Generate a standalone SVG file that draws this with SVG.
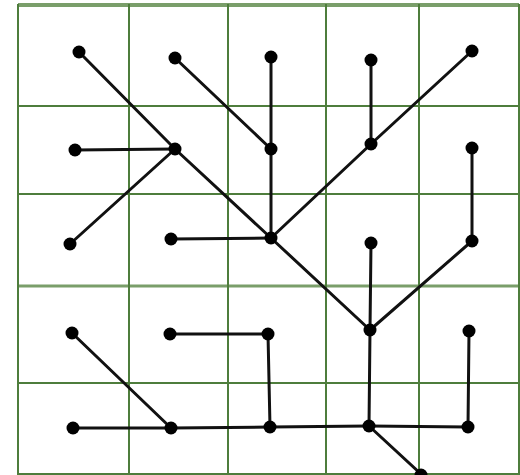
<svg xmlns="http://www.w3.org/2000/svg" width="520" height="475" viewBox="0 0 520 475">
<style>
.grid line{stroke:#4e7d3c;stroke-width:2}
.edges line{stroke:#111;stroke-width:3;stroke-linecap:round}
.n{fill:#000}
</style>
<rect width="520" height="475" fill="#fff"/>
<g class="grid" id="grid">
<line x1="18" y1="5" x2="519" y2="5" style="stroke:#7a9e6a;stroke-width:4"/>
<line x1="18" y1="106" x2="519" y2="106"/>
<line x1="18" y1="194" x2="519" y2="194"/>
<line x1="18" y1="286" x2="519" y2="286" style="stroke:#7a9e6a;stroke-width:3"/>
<line x1="18" y1="383" x2="519" y2="383"/>
<line x1="18" y1="474" x2="519" y2="474"/>
<line x1="18" y1="4" x2="18" y2="475"/>
<line x1="129" y1="4" x2="129" y2="475"/>
<line x1="228" y1="4" x2="228" y2="475"/>
<line x1="326" y1="4" x2="326" y2="475"/>
<line x1="419" y1="4" x2="419" y2="475"/>
<line x1="519" y1="4" x2="519" y2="475"/>
</g>
<g class="edges" id="connectors">
<line x1="79" y1="52" x2="175" y2="149"/>
<line x1="175" y1="149" x2="271" y2="238"/>
<line x1="271" y1="238" x2="370" y2="330"/>
<line x1="175" y1="58" x2="271" y2="149"/>
<line x1="271" y1="57" x2="271" y2="238"/>
<line x1="371" y1="60" x2="371" y2="144"/>
<line x1="472" y1="51" x2="371" y2="144"/>
<line x1="371" y1="144" x2="271" y2="238"/>
<line x1="75" y1="150" x2="175" y2="149"/>
<line x1="70" y1="244" x2="175" y2="149"/>
<line x1="171" y1="239" x2="271" y2="238"/>
<line x1="472" y1="148" x2="472" y2="241"/>
<line x1="472" y1="241" x2="370" y2="330"/>
<line x1="371" y1="243" x2="370" y2="330"/>
<line x1="370" y1="330" x2="369" y2="426"/>
<line x1="72" y1="333" x2="171" y2="428"/>
<line x1="73" y1="428" x2="171" y2="428"/>
<line x1="171" y1="428" x2="270" y2="427"/>
<line x1="270" y1="427" x2="369" y2="426"/>
<line x1="369" y1="426" x2="468" y2="427"/>
<line x1="170" y1="334" x2="268" y2="334"/>
<line x1="268" y1="334" x2="270" y2="427"/>
<line x1="469" y1="331" x2="468" y2="427"/>
<line x1="369" y1="426" x2="421" y2="474"/>
</g>
<g id="node-r1c1"><circle class="n" cx="79" cy="52" r="6.5"/></g>
<g id="node-r1c2"><circle class="n" cx="175" cy="58" r="6.5"/></g>
<g id="node-r1c3"><circle class="n" cx="271" cy="57" r="6.5"/></g>
<g id="node-r1c4"><circle class="n" cx="371" cy="60" r="6.5"/></g>
<g id="node-r1c5"><circle class="n" cx="472" cy="51" r="6.5"/></g>
<g id="node-r2c1"><circle class="n" cx="75" cy="150" r="6.5"/></g>
<g id="node-r2c2"><circle class="n" cx="175" cy="149" r="6.5"/></g>
<g id="node-r2c3"><circle class="n" cx="271" cy="149" r="6.5"/></g>
<g id="node-r2c4"><circle class="n" cx="371" cy="144" r="6.5"/></g>
<g id="node-r2c5"><circle class="n" cx="472" cy="148" r="6.5"/></g>
<g id="node-r3c1"><circle class="n" cx="70" cy="244" r="6.5"/></g>
<g id="node-r3c2"><circle class="n" cx="171" cy="239" r="6.5"/></g>
<g id="node-r3c3"><circle class="n" cx="271" cy="238" r="6.5"/></g>
<g id="node-r3c4"><circle class="n" cx="371" cy="243" r="6.5"/></g>
<g id="node-r3c5"><circle class="n" cx="472" cy="241" r="6.5"/></g>
<g id="node-r4c1"><circle class="n" cx="72" cy="333" r="6.5"/></g>
<g id="node-r4c2"><circle class="n" cx="170" cy="334" r="6.5"/></g>
<g id="node-r4c3"><circle class="n" cx="268" cy="334" r="6.5"/></g>
<g id="node-r4c4"><circle class="n" cx="370" cy="330" r="6.5"/></g>
<g id="node-r4c5"><circle class="n" cx="469" cy="331" r="6.5"/></g>
<g id="node-r5c1"><circle class="n" cx="73" cy="428" r="6.5"/></g>
<g id="node-r5c2"><circle class="n" cx="171" cy="428" r="6.5"/></g>
<g id="node-r5c3"><circle class="n" cx="270" cy="427" r="6.5"/></g>
<g id="node-r5c4"><circle class="n" cx="369" cy="426" r="6.5"/></g>
<g id="node-r5c5"><circle class="n" cx="468" cy="427" r="6.5"/></g>
<g id="node-exit"><circle class="n" cx="421" cy="475" r="6.5"/></g>
</svg>
